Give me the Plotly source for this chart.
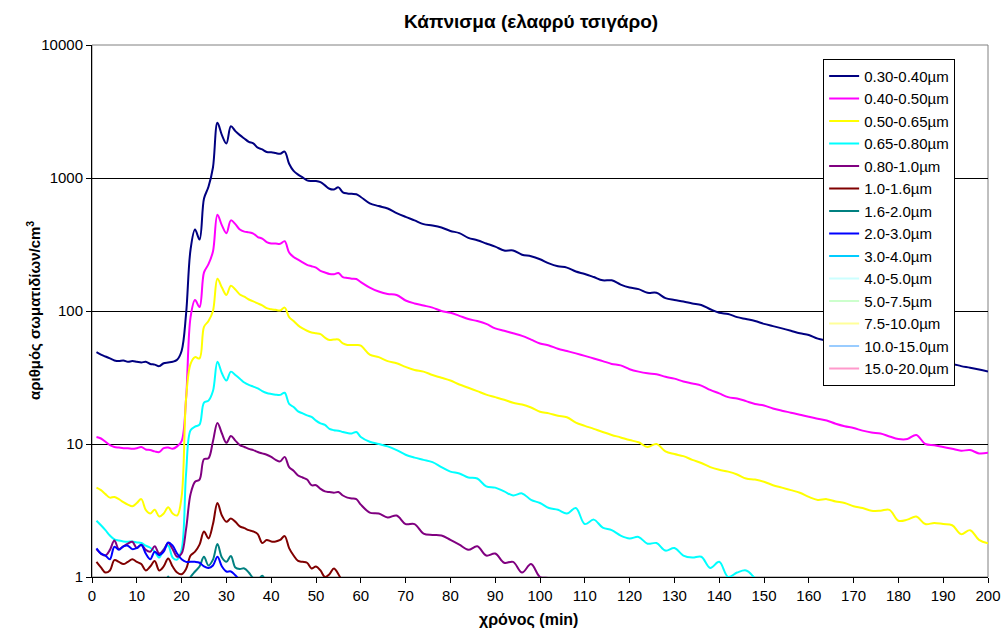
import plotly.graph_objects as go

# Sampling times (min): every minute up to 60, then every 2 minutes
TIMES = list(range(1, 61)) + list(range(62, 201, 2))

SIZE_LABELS = [
    "0.30-0.40µm", "0.40-0.50µm", "0.50-0.65µm", "0.65-0.80µm", "0.80-1.0µm",
    "1.0-1.6µm", "1.6-2.0µm", "2.0-3.0µm", "3.0-4.0µm", "4.0-5.0µm",
    "5.0-7.5µm", "7.5-10.0µm", "10.0-15.0µm", "15.0-20.0µm",
]

# Particle counts per cm³ for each size class (series end once they fall below 1)
c_030_040 = [
    49, 47, 45.5, 44, 42.5, 42, 42.5, 41.5, 42, 41.5,
    41, 41.5, 40, 39.5, 38.5, 40.5, 41, 41.5, 43, 50,
    95, 290, 410, 345, 700, 860, 1200, 2600, 2100, 1820,
    2450, 2250, 2100, 1980, 1870, 1820, 1690, 1640, 1570, 1560,
    1540, 1520, 1580, 1280, 1130, 1060, 1010, 960, 950, 950,
    930, 880, 830, 820, 850, 780, 765, 760, 755, 720,
    645, 615, 590, 545, 510, 480, 450, 440, 425, 400,
    385, 355, 340, 322, 305, 285, 285, 265, 258, 245,
    228, 217, 212, 198, 190, 180, 170, 170, 158, 150,
    146, 137, 137, 125, 121, 118, 114, 111, 103, 97,
    95, 90, 87, 84, 80, 77, 74, 71, 68, 66,
    62, 60, 58, 56, 54, 52, 51, 49, 47, 46,
    45, 43, 42, 41, 40, 40, 38.5, 37.5, 36.3, 35,
]
c_040_050 = [
    11.3, 11.0, 10.4, 9.8, 9.5, 9.4, 9.3, 9.3, 9.2, 9.3,
    9.5, 9.1, 9.0, 8.8, 8.7, 9.3, 9.4, 9.2, 9.6, 10.5,
    22, 90, 121, 107, 195, 225, 280, 530, 440, 385,
    480, 450, 410, 395, 390, 382, 360, 350, 330, 322,
    322, 320, 335, 275, 255, 243, 232, 222, 217, 212,
    200, 195, 190, 189, 193, 180, 177, 175, 174, 165,
    150, 140, 134, 132, 120, 114, 110, 106, 100, 97,
    92, 87, 84, 80, 74, 71, 68, 65, 61, 57,
    55, 52, 50, 48, 46, 44, 42, 40, 39, 36.5,
    35, 34, 33.5, 32, 31, 29.5, 28.5, 27.5, 25.5, 24,
    22.5, 22, 21, 20, 19.5, 18.5, 17.8, 17.2, 16.6, 16,
    15.5, 15, 14.2, 13.6, 13.2, 12.6, 12.2, 12, 11.4, 10.9,
    10.9, 11.7, 10, 9.8, 9.5, 9.2, 8.9, 9.0, 8.5, 8.6,
]
c_050_065 = [
    4.7, 4.5, 4.2, 3.95, 4.0, 3.85, 3.65, 3.5, 3.4, 3.6,
    3.85, 3.2, 3.0, 3.2, 2.85, 3.0, 3.35, 3.0, 2.9, 4.0,
    22, 40, 45, 44, 76, 84, 100, 175, 150, 132,
    155, 145, 133, 128, 122, 118, 114, 110, 105, 103,
    102, 101, 106, 90, 84, 78, 74, 71, 69, 68,
    67, 63, 60.5, 61, 61, 57, 55.6, 55.6, 55.5, 55,
    47, 45, 42, 40.5, 38, 36, 35, 33, 31.5, 30,
    28, 26.5, 25, 23.5, 22.5, 21.5, 20.4, 19.8, 18.8, 17.5,
    17, 16.3, 15.9, 14.5, 13.7, 13, 12.3, 11.7, 11.2, 10.7,
    10.3, 9.5, 10, 8.8, 8.4, 8.1, 7.6, 7.2, 6.7, 6.4,
    6.2, 5.9, 5.5, 5.4, 5.2, 4.9, 4.7, 4.5, 4.3, 4.0,
    3.8, 3.85, 3.7, 3.6, 3.4, 3.3, 3.15, 3.15, 3.2, 2.65,
    2.7, 2.85, 2.5, 2.55, 2.5, 2.45, 2.1, 2.25, 1.9, 1.79,
]
c_065_080 = [
    2.65, 2.45, 2.25, 2.05, 1.92, 1.88, 1.85, 1.84, 1.85, 1.82,
    1.8, 1.72, 1.66, 1.55, 1.4, 1.62, 1.72, 1.4, 1.35, 1.6,
    6, 12.7, 13.5, 14, 20.5, 21.2, 25, 41.5, 34, 30,
    35, 33, 31, 29, 27.8, 27, 26.2, 25, 24.2, 23.8,
    23.5, 23.4, 24.3, 20, 19, 17.6, 17, 16.4, 16, 15,
    14.3, 13.9, 13, 12.7, 12.6, 12.3, 12.1, 12, 12.3, 11.3,
    10.4, 10.0, 9.6, 9.0, 8.3, 7.9, 7.6, 7.3, 6.7, 6.2,
    6.0, 5.6, 5.5, 4.8, 4.7, 4.4, 4.1, 4.25, 3.8, 3.6,
    3.3, 3.2, 3.0, 3.3, 2.5, 2.7, 2.35, 2.25, 2.05, 1.95,
    2.0, 1.78, 1.8, 1.58, 1.65, 1.45, 1.4, 1.42, 1.17, 1.3,
    1.0, 1.08, 1.12, 0.98, 0.85,
]
c_080_100 = [
    1.62, 1.5, 1.45, 1.6, 1.88, 1.62, 1.7, 1.78, 1.84, 1.65,
    1.75, 1.6, 1.55, 1.7, 1.5, 1.6, 1.8, 1.62, 1.42, 1.5,
    2.3, 4.2, 5.2, 5.4, 7.7, 7.8, 10.5, 14.4, 12, 10.2,
    11.5, 10.6, 9.8, 9.5, 9.2, 9.0, 8.7, 8.5, 8.3, 8.0,
    7.6, 7.4, 8.0, 6.7, 6.3, 5.8, 5.6, 5.4, 4.9, 4.9,
    4.6, 4.4, 4.35, 4.3, 4.35, 4.1, 3.95, 3.9, 3.85, 3.5,
    3.05, 3.0, 2.8, 2.9, 2.5, 2.5, 2.12, 2.07, 2.05, 1.9,
    1.75, 1.6, 1.7, 1.45, 1.5, 1.28, 1.3, 1.08, 1.25, 1.0,
    0.98, 0.9,
]
c_10_16 = [
    1.3, 1.18, 1.08, 1.12, 1.34, 1.3, 1.25, 1.3, 1.36, 1.3,
    1.25, 1.12, 1.2, 1.32, 1.12, 1.2, 1.38, 1.2, 1.08, 1.05,
    1.15, 1.45, 1.55, 1.75, 2.2, 1.95, 2.5, 3.6, 2.9, 2.6,
    2.75, 2.6, 2.4, 2.33, 2.25, 2.2, 2.1, 1.8, 1.9, 1.85,
    1.85, 1.9, 2.03, 1.65, 1.45, 1.32, 1.3, 1.28, 1.16, 1.2,
    1.12, 1.0, 1.05, 1.16, 1.05, 0.9,
]
c_16_20 = [
    0.7, 0.65, 0.6, 0.7, 0.75, 0.7, 0.65, 0.7, 0.8, 0.75,
    0.7, 0.65, 0.7, 0.75, 0.7, 0.8, 1.01, 0.8, 0.7, 0.75,
    0.85, 1.0, 1.1, 1.2, 1.42, 1.22, 1.35, 1.77, 1.4, 1.3,
    1.44, 1.18, 1.15, 1.16, 1.08, 0.98, 0.95, 1.02, 0.9, 0.8,
]
c_20_30 = [
    1.64, 1.5, 1.45, 1.36, 1.69, 1.6, 1.7, 1.72, 1.62, 1.65,
    1.74, 1.5, 1.36, 1.55, 1.46, 1.55, 1.82, 1.72, 1.5, 1.36,
    1.3, 1.3, 1.3, 1.28, 1.2, 1.17, 1.22, 1.42, 1.2, 1.1,
    1.1, 1.03, 0.95, 0.9,
]
c_30_40 = [0.6, 0.55, 0.5, 0.55, 0.6, 0.5, 0.45, 0.5, 0.55, 0.5]
c_40_50 = [0.3, 0.25, 0.3, 0.2, 0.25, 0.3, 0.2, 0.25, 0.2, 0.25]
c_50_75 = [0.2, 0.15, 0.2, 0.1, 0.15, 0.2, 0.1, 0.15, 0.1, 0.15]
c_75_100 = [0.1, 0.05, 0.1, 0.05, 0.1, 0.05, 0.1, 0.05, 0.1, 0.05]
c_100_150 = [0.05, 0.05, 0.1, 0.05, 0.05, 0.1, 0.05, 0.05, 0.1, 0.05]
c_150_200 = [0.05, 0.05, 0.05, 0.1, 0.05, 0.05, 0.05, 0.1, 0.05, 0.05]

COUNTS = [
    c_030_040, c_040_050, c_050_065, c_065_080, c_080_100, c_10_16, c_16_20,
    c_20_30, c_30_40, c_40_50, c_50_75, c_75_100, c_100_150, c_150_200,
]
COLORS = [
    "#000080", "#FF00FF", "#FFFF00", "#00FFFF", "#800080", "#800000", "#008080",
    "#0000FF", "#00CCFF", "#CCFFFF", "#CCFFCC", "#FFFF99", "#99CCFF", "#FF99CC",
]

Y_TICKS = [1, 10, 100, 1000, 10000]
Y_TICK_TEXT = ["1", "10", "100", "1000", "10000"]

FONT = "Liberation Sans, Arial, sans-serif"

fig = go.Figure()
for label, color, vals in zip(SIZE_LABELS, COLORS, COUNTS):
    fig.add_trace(go.Scatter(
        x=TIMES[:len(vals)], y=vals, mode="lines", name=label,
        line=dict(color=color, width=2, shape="spline", smoothing=1),
    ))

fig.update_layout(
    width=1001, height=634,
    margin=dict(l=92, r=13, t=45, b=57, autoexpand=False),
    paper_bgcolor="white", plot_bgcolor="white",
    font=dict(family=FONT, size=15, color="black"),
    title=dict(
        text="<b>Κάπνισμα (ελαφρύ τσιγάρο)</b>",
        x=0.5305, xref="container", xanchor="center",
        y=0.966, yref="container", yanchor="middle",
        font=dict(family=FONT, size=19, color="black"),
    ),
    showlegend=True,
    legend=dict(
        x=0.816, y=0.974, xanchor="left", yanchor="top",
        bgcolor="white", bordercolor="black", borderwidth=1,
        font=dict(family=FONT, size=15, color="black"),
    ),
    shapes=[dict(
        type="rect", xref="paper", yref="paper", x0=0, x1=1, y0=0, y1=1,
        line=dict(color="#808080", width=1), layer="below",
    )],
    annotations=[
        dict(
            text="<b>χρόνος (min)</b>", xref="paper", yref="paper",
            x=0.4877, y=-0.0808, xanchor="center", yanchor="middle",
            showarrow=False, font=dict(family=FONT, size=16),
        ),
        dict(
            text="<b>αριθμός σωματιδίων/cm<sup>3</sup></b>", xref="paper", yref="paper",
            x=-0.0658, y=0.5, xanchor="center", yanchor="middle", textangle=-90,
            showarrow=False, font=dict(family=FONT, size=15),
        ),
    ],
)

fig.update_xaxes(
    range=[0, 200], dtick=10, tick0=0,
    ticks="outside", ticklen=5, tickcolor="black",
    showline=True, linecolor="black", linewidth=1,
    showgrid=False, zeroline=False, automargin=False,
    tickfont=dict(family=FONT, size=15),
)
fig.update_yaxes(
    type="log", range=[0, 4],
    tickvals=Y_TICKS, ticktext=Y_TICK_TEXT,
    ticks="outside", ticklen=5, tickcolor="black",
    showline=True, linecolor="black", linewidth=1,
    showgrid=True, gridcolor="black", gridwidth=1,
    zeroline=False, automargin=False,
    tickfont=dict(family=FONT, size=15),
)

fig.write_html("out.html")
